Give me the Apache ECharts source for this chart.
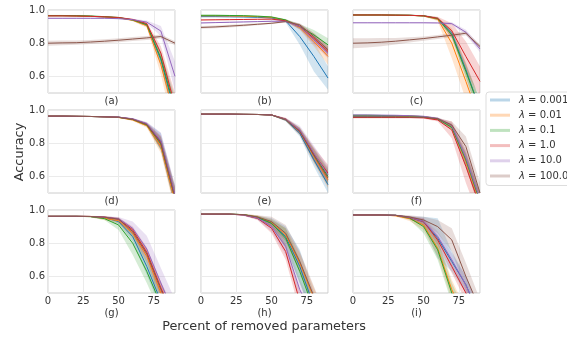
<!DOCTYPE html>
<html>
<head>
<meta charset="utf-8">
<script src="https://cdn.jsdelivr.net/npm/echarts@6/dist/echarts.min.js"></script>
<style>
  html, body { margin: 0; padding: 0; background: #fff; }
  #chart { width: 567px; height: 338px; }
</style>
</head>
<body>
<div id="chart"></div>
<script>
// percent of removed parameters (x positions of every curve)
var xValues = [0, 10, 20, 30, 40, 50, 60, 70, 80, 90];
var lambdas = ['0.001', '0.01', '0.1', '1.0', '10.0', '100.0'];
var panelNames = ['(a)', '(b)', '(c)', '(d)', '(e)', '(f)', '(g)', '(h)', '(i)'];
var yTicks = [0.6, 0.8, 1.0];

// mean accuracy, one row per lambda (0.001 .. 100.0)
var meanA = [
  [0.965, 0.965, 0.964, 0.962, 0.958, 0.953, 0.940, 0.910, 0.70, 0.38],
  [0.965, 0.965, 0.964, 0.962, 0.958, 0.953, 0.938, 0.905, 0.67, 0.35],
  [0.967, 0.967, 0.966, 0.964, 0.960, 0.955, 0.940, 0.912, 0.71, 0.40],
  [0.965, 0.965, 0.964, 0.962, 0.959, 0.955, 0.943, 0.918, 0.74, 0.42],
  [0.950, 0.950, 0.950, 0.950, 0.950, 0.948, 0.942, 0.927, 0.873, 0.60],
  [0.800, 0.802, 0.803, 0.807, 0.812, 0.818, 0.825, 0.832, 0.840, 0.800]
];
// half width of the shaded band
var bandA = [
  [0.002, 0.002, 0.002, 0.002, 0.003, 0.003, 0.005, 0.010, 0.04, 0.08],
  [0.002, 0.002, 0.002, 0.002, 0.003, 0.004, 0.006, 0.012, 0.06, 0.10],
  [0.002, 0.002, 0.002, 0.002, 0.003, 0.003, 0.005, 0.010, 0.04, 0.08],
  [0.002, 0.002, 0.002, 0.002, 0.003, 0.003, 0.005, 0.010, 0.04, 0.08],
  [0.003, 0.003, 0.003, 0.003, 0.003, 0.004, 0.005, 0.010, 0.03, 0.09],
  [0.015, 0.014, 0.013, 0.012, 0.012, 0.012, 0.012, 0.012, 0.012, 0.012]
];

var meanB = [
  [0.960, 0.960, 0.959, 0.958, 0.956, 0.952, 0.935, 0.840, 0.720, 0.590],
  [0.965, 0.965, 0.964, 0.963, 0.960, 0.956, 0.938, 0.895, 0.810, 0.720],
  [0.968, 0.968, 0.967, 0.966, 0.963, 0.958, 0.940, 0.900, 0.850, 0.790],
  [0.940, 0.941, 0.942, 0.943, 0.944, 0.945, 0.935, 0.900, 0.830, 0.750],
  [0.922, 0.924, 0.926, 0.928, 0.930, 0.932, 0.932, 0.900, 0.820, 0.740],
  [0.895, 0.898, 0.903, 0.908, 0.914, 0.920, 0.930, 0.910, 0.840, 0.760]
];
var bandB = [
  [0.003, 0.003, 0.003, 0.003, 0.003, 0.004, 0.010, 0.050, 0.090, 0.070],
  [0.003, 0.003, 0.003, 0.003, 0.003, 0.004, 0.006, 0.015, 0.030, 0.050],
  [0.003, 0.003, 0.003, 0.003, 0.003, 0.004, 0.006, 0.015, 0.030, 0.040],
  [0.003, 0.003, 0.003, 0.003, 0.003, 0.004, 0.006, 0.015, 0.030, 0.030],
  [0.003, 0.003, 0.003, 0.003, 0.003, 0.004, 0.006, 0.015, 0.030, 0.030],
  [0.008, 0.008, 0.008, 0.007, 0.006, 0.005, 0.005, 0.010, 0.020, 0.030]
];

var meanC = [
  [0.970, 0.970, 0.970, 0.969, 0.968, 0.965, 0.948, 0.860, 0.640, 0.40],
  [0.970, 0.970, 0.970, 0.969, 0.968, 0.964, 0.945, 0.800, 0.570, 0.33],
  [0.970, 0.970, 0.970, 0.969, 0.968, 0.965, 0.948, 0.850, 0.630, 0.40],
  [0.970, 0.970, 0.970, 0.969, 0.968, 0.965, 0.950, 0.875, 0.720, 0.57],
  [0.923, 0.923, 0.923, 0.923, 0.923, 0.923, 0.922, 0.918, 0.866, 0.765],
  [0.800, 0.802, 0.806, 0.812, 0.820, 0.828, 0.838, 0.848, 0.860, 0.780]
];
var bandC = [
  [0.002, 0.002, 0.002, 0.002, 0.003, 0.004, 0.008, 0.020, 0.040, 0.06],
  [0.002, 0.002, 0.002, 0.002, 0.003, 0.005, 0.012, 0.090, 0.110, 0.12],
  [0.002, 0.002, 0.002, 0.002, 0.003, 0.004, 0.008, 0.020, 0.040, 0.06],
  [0.002, 0.002, 0.002, 0.002, 0.003, 0.004, 0.010, 0.045, 0.090, 0.09],
  [0.003, 0.003, 0.003, 0.003, 0.003, 0.003, 0.004, 0.008, 0.015, 0.02],
  [0.030, 0.028, 0.025, 0.020, 0.016, 0.013, 0.012, 0.012, 0.012, 0.012]
];

var meanD = [
  [0.963, 0.963, 0.962, 0.961, 0.959, 0.957, 0.945, 0.915, 0.810, 0.48],
  [0.963, 0.963, 0.962, 0.961, 0.959, 0.955, 0.940, 0.905, 0.780, 0.45],
  [0.963, 0.963, 0.962, 0.961, 0.959, 0.956, 0.943, 0.910, 0.795, 0.47],
  [0.963, 0.963, 0.962, 0.961, 0.959, 0.957, 0.945, 0.915, 0.805, 0.48],
  [0.963, 0.963, 0.962, 0.961, 0.959, 0.957, 0.947, 0.918, 0.815, 0.49],
  [0.963, 0.963, 0.962, 0.961, 0.959, 0.956, 0.944, 0.912, 0.800, 0.47]
];
var bandD = [
  [0.002, 0.002, 0.002, 0.002, 0.002, 0.003, 0.005, 0.010, 0.050, 0.06],
  [0.002, 0.002, 0.002, 0.002, 0.002, 0.003, 0.006, 0.012, 0.040, 0.06],
  [0.002, 0.002, 0.002, 0.002, 0.002, 0.003, 0.005, 0.010, 0.040, 0.06],
  [0.002, 0.002, 0.002, 0.002, 0.002, 0.003, 0.005, 0.010, 0.040, 0.06],
  [0.002, 0.002, 0.002, 0.002, 0.002, 0.003, 0.005, 0.010, 0.050, 0.06],
  [0.002, 0.002, 0.002, 0.002, 0.002, 0.003, 0.005, 0.010, 0.040, 0.06]
];

var meanE = [
  [0.975, 0.975, 0.975, 0.974, 0.973, 0.970, 0.940, 0.860, 0.700, 0.55],
  [0.975, 0.975, 0.975, 0.974, 0.973, 0.970, 0.942, 0.870, 0.720, 0.58],
  [0.975, 0.975, 0.975, 0.974, 0.973, 0.970, 0.943, 0.875, 0.730, 0.60],
  [0.975, 0.975, 0.975, 0.974, 0.973, 0.970, 0.945, 0.875, 0.735, 0.62],
  [0.975, 0.975, 0.975, 0.974, 0.973, 0.970, 0.944, 0.880, 0.740, 0.61],
  [0.975, 0.975, 0.975, 0.974, 0.973, 0.970, 0.942, 0.870, 0.725, 0.59]
];
var bandE = [
  [0.002, 0.002, 0.002, 0.002, 0.002, 0.003, 0.008, 0.020, 0.040, 0.05],
  [0.002, 0.002, 0.002, 0.002, 0.002, 0.003, 0.008, 0.020, 0.040, 0.05],
  [0.002, 0.002, 0.002, 0.002, 0.002, 0.003, 0.008, 0.020, 0.040, 0.05],
  [0.002, 0.002, 0.002, 0.002, 0.002, 0.003, 0.008, 0.020, 0.040, 0.05],
  [0.002, 0.002, 0.002, 0.002, 0.002, 0.003, 0.008, 0.025, 0.045, 0.05],
  [0.002, 0.002, 0.002, 0.002, 0.002, 0.003, 0.008, 0.020, 0.040, 0.05]
];

var meanF = [
  [0.960, 0.960, 0.960, 0.960, 0.959, 0.957, 0.945, 0.900, 0.700, 0.45],
  [0.965, 0.965, 0.965, 0.964, 0.963, 0.960, 0.947, 0.900, 0.690, 0.44],
  [0.968, 0.968, 0.967, 0.966, 0.964, 0.960, 0.947, 0.895, 0.700, 0.45],
  [0.955, 0.955, 0.955, 0.955, 0.955, 0.953, 0.940, 0.880, 0.660, 0.42],
  [0.970, 0.970, 0.969, 0.968, 0.966, 0.962, 0.950, 0.905, 0.710, 0.46],
  [0.958, 0.958, 0.958, 0.958, 0.957, 0.956, 0.948, 0.910, 0.780, 0.50]
];
var bandF = [
  [0.003, 0.003, 0.003, 0.003, 0.003, 0.004, 0.006, 0.015, 0.040, 0.05],
  [0.003, 0.003, 0.003, 0.003, 0.003, 0.004, 0.006, 0.015, 0.040, 0.05],
  [0.003, 0.003, 0.003, 0.003, 0.003, 0.004, 0.006, 0.015, 0.040, 0.05],
  [0.006, 0.006, 0.006, 0.006, 0.006, 0.006, 0.010, 0.050, 0.100, 0.08],
  [0.003, 0.003, 0.003, 0.003, 0.003, 0.004, 0.006, 0.015, 0.040, 0.05],
  [0.003, 0.003, 0.003, 0.003, 0.003, 0.004, 0.006, 0.020, 0.060, 0.06]
];

var meanG = [
  [0.962, 0.962, 0.962, 0.961, 0.955, 0.930, 0.840, 0.660, 0.45, 0.30],
  [0.962, 0.962, 0.962, 0.961, 0.950, 0.935, 0.860, 0.720, 0.50, 0.32],
  [0.962, 0.962, 0.962, 0.960, 0.948, 0.910, 0.800, 0.630, 0.43, 0.30],
  [0.962, 0.962, 0.962, 0.961, 0.957, 0.945, 0.880, 0.745, 0.53, 0.34],
  [0.962, 0.962, 0.962, 0.961, 0.957, 0.948, 0.890, 0.765, 0.56, 0.36],
  [0.962, 0.962, 0.962, 0.961, 0.957, 0.945, 0.870, 0.735, 0.52, 0.34]
];
var bandG = [
  [0.002, 0.002, 0.002, 0.003, 0.005, 0.015, 0.030, 0.050, 0.05, 0.05],
  [0.002, 0.002, 0.002, 0.004, 0.012, 0.015, 0.030, 0.040, 0.05, 0.05],
  [0.002, 0.002, 0.002, 0.003, 0.008, 0.030, 0.070, 0.070, 0.06, 0.05],
  [0.002, 0.002, 0.002, 0.003, 0.005, 0.010, 0.020, 0.030, 0.04, 0.05],
  [0.002, 0.002, 0.002, 0.003, 0.005, 0.010, 0.040, 0.080, 0.09, 0.10],
  [0.002, 0.002, 0.002, 0.003, 0.005, 0.010, 0.020, 0.030, 0.04, 0.05]
];

var meanH = [
  [0.975, 0.975, 0.975, 0.972, 0.955, 0.920, 0.840, 0.660, 0.42, 0.25],
  [0.975, 0.975, 0.975, 0.972, 0.958, 0.925, 0.850, 0.680, 0.47, 0.28],
  [0.975, 0.975, 0.975, 0.972, 0.956, 0.920, 0.830, 0.630, 0.40, 0.25],
  [0.975, 0.975, 0.975, 0.970, 0.950, 0.890, 0.750, 0.450, 0.30, 0.22],
  [0.975, 0.975, 0.975, 0.970, 0.952, 0.900, 0.780, 0.520, 0.35, 0.24],
  [0.975, 0.975, 0.975, 0.972, 0.958, 0.930, 0.860, 0.690, 0.48, 0.28]
];
var bandH = [
  [0.002, 0.002, 0.002, 0.004, 0.010, 0.030, 0.060, 0.100, 0.08, 0.05],
  [0.002, 0.002, 0.002, 0.004, 0.010, 0.020, 0.040, 0.060, 0.06, 0.05],
  [0.002, 0.002, 0.002, 0.004, 0.010, 0.020, 0.060, 0.070, 0.06, 0.05],
  [0.002, 0.002, 0.002, 0.004, 0.010, 0.030, 0.050, 0.060, 0.05, 0.05],
  [0.002, 0.002, 0.002, 0.004, 0.010, 0.030, 0.050, 0.060, 0.05, 0.05],
  [0.002, 0.002, 0.002, 0.004, 0.010, 0.030, 0.050, 0.060, 0.06, 0.05]
];

var meanI = [
  [0.970, 0.970, 0.970, 0.968, 0.955, 0.930, 0.830, 0.690, 0.55, 0.35],
  [0.970, 0.970, 0.970, 0.965, 0.948, 0.910, 0.770, 0.520, 0.35, 0.25],
  [0.970, 0.970, 0.970, 0.968, 0.952, 0.900, 0.760, 0.500, 0.33, 0.25],
  [0.970, 0.970, 0.970, 0.968, 0.955, 0.930, 0.820, 0.660, 0.50, 0.32],
  [0.970, 0.970, 0.970, 0.968, 0.956, 0.932, 0.840, 0.700, 0.55, 0.35],
  [0.970, 0.970, 0.970, 0.968, 0.958, 0.940, 0.900, 0.820, 0.60, 0.40]
];
var bandI = [
  [0.002, 0.002, 0.002, 0.003, 0.008, 0.030, 0.120, 0.060, 0.05, 0.05],
  [0.002, 0.002, 0.002, 0.004, 0.015, 0.030, 0.050, 0.060, 0.05, 0.05],
  [0.002, 0.002, 0.002, 0.003, 0.010, 0.040, 0.060, 0.060, 0.05, 0.05],
  [0.002, 0.002, 0.002, 0.003, 0.008, 0.020, 0.030, 0.040, 0.05, 0.05],
  [0.002, 0.002, 0.002, 0.003, 0.008, 0.020, 0.030, 0.040, 0.05, 0.05],
  [0.002, 0.002, 0.002, 0.003, 0.010, 0.020, 0.040, 0.070, 0.08, 0.06]
];

var means = [meanA, meanB, meanC, meanD, meanE, meanF, meanG, meanH, meanI];
var bands = [bandA, bandB, bandC, bandD, bandE, bandF, bandG, bandH, bandI];

var colors = ['#1f77b4', '#ff7f0e', '#2ca02c', '#d62728', '#9467bd', '#8c564b'];
var lightColors = ['rgba(31,119,180,0.3)', 'rgba(255,127,14,0.3)', 'rgba(44,160,44,0.3)',
                   'rgba(214,39,40,0.3)', 'rgba(148,103,189,0.3)', 'rgba(140,86,75,0.3)'];

var FONT = 'DejaVu Sans';
var colLeft = [48, 201, 353];
var rowTop = [10, 110, 210];

// band drawn as one polygon through the library's coordinate conversion
function bandRenderer(rows, color) {
  return function (params, api) {
    if (params.dataIndex !== 0) return null;
    var pts = [];
    for (var k = 0; k < rows.length; k++) pts.push(api.coord([rows[k][0], rows[k][2]]));
    for (var k2 = rows.length - 1; k2 >= 0; k2--) pts.push(api.coord([rows[k2][0], rows[k2][1]]));
    return {
      type: 'polygon', shape: { points: pts },
      style: { fill: color, opacity: 0.2 }, silent: true
    };
  };
}

var grids = [], xAxes = [], yAxes = [], series = [];
for (var p = 0; p < 9; p++) {
  var row = Math.floor(p / 3), col = p % 3;
  grids.push({
    left: colLeft[col], top: rowTop[row], width: 127, height: 83,
    show: true, borderColor: '#cccccc', borderWidth: 1, backgroundColor: 'transparent',
    outerBoundsMode: 'none'
  });
  xAxes.push({
    type: 'value', gridIndex: p, min: 0, max: 90, interval: 25,
    name: panelNames[p], nameLocation: 'middle', nameGap: row === 2 ? 15 : 3,
    nameTextStyle: { fontFamily: FONT, fontSize: 10, color: '#333' },
    axisLine: { show: false }, axisTick: { show: false },
    axisLabel: { show: row === 2, margin: 3, fontFamily: FONT, fontSize: 10, color: '#333', showMaxLabel: false },
    splitLine: { show: true, lineStyle: { color: '#ebebeb', width: 1 } }
  });
  yAxes.push({
    type: 'value', gridIndex: p, min: 0.5, max: 1.0,
    axisLine: { show: false },
    axisTick: { show: false, customValues: yTicks },
    axisLabel: { show: col === 0, margin: 3, fontFamily: FONT, fontSize: 10, color: '#333',
      customValues: yTicks, formatter: function (v) { return v.toFixed(1); } },
    splitLine: { show: true, lineStyle: { color: '#ebebeb', width: 1 } }
  });
  for (var s = 0; s < 6; s++) {
    var m = means[p][s], b = bands[p][s];
    var rows = [], line = [];
    for (var k = 0; k < xValues.length; k++) {
      rows.push([xValues[k], m[k] - b[k], m[k] + b[k]]);
      line.push([xValues[k], m[k]]);
    }
    series.push({
      type: 'custom', name: 'band' + p + s, xAxisIndex: p, yAxisIndex: p,
      data: rows, encode: { x: 0, y: [1, 2] }, clip: true, z: 1, silent: true,
      renderItem: bandRenderer(rows, colors[s])
    });
    series.push({
      type: 'line', name: lambdas[s], xAxisIndex: p, yAxisIndex: p, data: line,
      symbol: 'none', z: 2, color: colors[s],
      lineStyle: { width: 1, color: colors[s] }
    });
  }
}

var chart = echarts.init(document.getElementById('chart'), null, { renderer: 'canvas' });
chart.setOption({
  animation: false,
  backgroundColor: '#fff',
  grid: grids,
  xAxis: xAxes,
  yAxis: yAxes,
  series: series,
  legend: {
    orient: 'vertical', left: 486, top: 92,
    padding: [1.5, 8, 3, 4],
    borderColor: '#dddddd', borderWidth: 1, borderRadius: 3,
    backgroundColor: '#fff',
    itemWidth: 20, itemHeight: 3, itemGap: 2.2,
    data: lambdas.map(function (l, i) {
      return { name: l, icon: 'rect', itemStyle: { color: lightColors[i] } };
    }),
    formatter: function (n) { return '{i|λ} = ' + n; },
    textStyle: {
      fontFamily: FONT, fontSize: 10, color: '#333', lineHeight: 13, padding: [0, 0, 0, 4],
      rich: { i: { fontFamily: FONT, fontSize: 10, fontStyle: 'italic', color: '#333' } }
    }
  },
  graphic: [
    { type: 'text', x: 264, y: 326.5, style: { text: 'Percent of removed parameters', font: '12.8px "DejaVu Sans"', fill: '#333', textAlign: 'center', textVerticalAlign: 'middle' } },
    { type: 'text', x: 20, y: 152, rotation: Math.PI / 2, style: { text: 'Accuracy', font: '12.8px "DejaVu Sans"', fill: '#333', textAlign: 'center', textVerticalAlign: 'middle' } }
  ]
});
</script>
</body>
</html>
